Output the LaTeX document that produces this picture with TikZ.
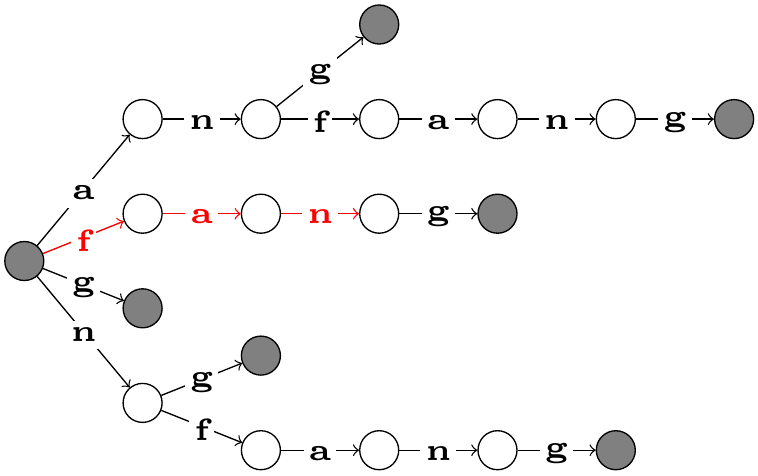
\documentclass[tikz,border=0pt]{standalone}
\begin{document}
\begin{tikzpicture}[x=0.3pt,y=-0.3pt,
  st/.style={circle, draw, minimum size=11.7pt, inner sep=0pt, line width=0.4pt},
  fin/.style={st, fill=gray},
  lbl/.style={yshift=-0.9pt, scale=1.85, fill=white, inner xsep=0.8pt, inner ysep=1.2pt,
    font=\fontsize{5}{6}\selectfont\bfseries},
  tr/.style={->, line width=0.4pt}]
\useasboundingbox (0,0) rectangle (758,475);
% nodes
\node[fin] (r) at (24.3,261) {};
\node[st] (a1) at (142.6,119.1) {};
\node[st] (f1) at (142.6,213.7) {};
\node[fin] (g1) at (142.6,308.3) {};
\node[st] (n1) at (142.6,402.9) {};
\node[st] (an2) at (260.9,119.1) {};
\node[fin] (ang3) at (379.2,24.5) {};
\node[st] (anf3) at (379.2,119.1) {};
\node[st] (anfa4) at (497.5,119.1) {};
\node[st] (anfan5) at (615.8,119.1) {};
\node[fin] (anfang6) at (734.1,119.1) {};
\node[st] (fa2) at (260.9,213.7) {};
\node[st] (fan3) at (379.2,213.7) {};
\node[fin] (fang4) at (497.5,213.7) {};
\node[fin] (ng2) at (260.9,355.6) {};
\node[st] (nf2) at (260.9,450.2) {};
\node[st] (nfa3) at (379.2,450.2) {};
\node[st] (nfan4) at (497.5,450.2) {};
\node[fin] (nfang5) at (615.8,450.2) {};
% edges
\draw[tr] (r) -- node[lbl]{a} (a1);
\draw[tr,red] (r) -- node[lbl]{f} (f1);
\draw[tr] (r) -- node[lbl]{g} (g1);
\draw[tr] (r) -- node[lbl]{n} (n1);
\draw[tr] (a1) -- node[lbl]{n} (an2);
\draw[tr] (an2) -- node[lbl]{g} (ang3);
\draw[tr] (an2) -- node[lbl]{f} (anf3);
\draw[tr] (anf3) -- node[lbl]{a} (anfa4);
\draw[tr] (anfa4) -- node[lbl]{n} (anfan5);
\draw[tr] (anfan5) -- node[lbl]{g} (anfang6);
\draw[tr,red] (f1) -- node[lbl]{a} (fa2);
\draw[tr,red] (fa2) -- node[lbl]{n} (fan3);
\draw[tr] (fan3) -- node[lbl]{g} (fang4);
\draw[tr] (n1) -- node[lbl]{g} (ng2);
\draw[tr] (n1) -- node[lbl]{f} (nf2);
\draw[tr] (nf2) -- node[lbl]{a} (nfa3);
\draw[tr] (nfa3) -- node[lbl]{n} (nfan4);
\draw[tr] (nfan4) -- node[lbl]{g} (nfang5);
\end{tikzpicture}
\end{document}
